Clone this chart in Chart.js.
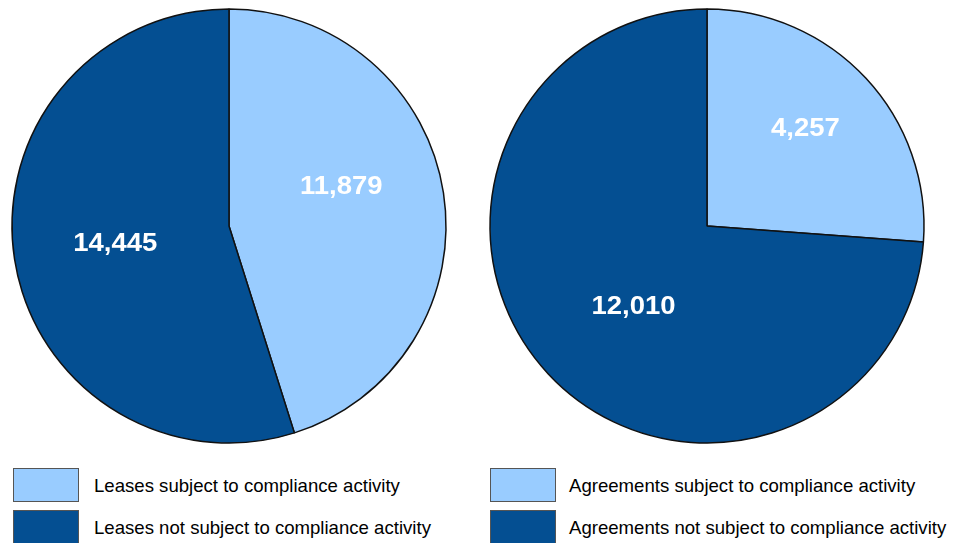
<!DOCTYPE html>
<html>
<head>
<meta charset="utf-8">
<script src="https://cdn.jsdelivr.net/npm/chart.js@4.4.1/dist/chart.umd.min.js"></script>
<style>
  body { margin: 0; background: #fff; font-family: "Liberation Sans", Arial, sans-serif; }
  #wrap { position: relative; width: 962px; height: 543px; overflow: hidden; }
  canvas { position: absolute; top: 0; }
  .box { position: absolute; width: 64px; height: 32px; border: 1px solid #555; }
  .txt { position: absolute; font-size: 18.6px; color: #000; line-height: 20px; white-space: nowrap; }
</style>
</head>
<body>
<div id="wrap">
  <canvas id="leases" width="458" height="452" style="left:0px"></canvas>
  <canvas id="agreements" width="458" height="452" style="left:478px"></canvas>

  <div class="box" style="left:13px;top:468px;background:#99ccff"></div>
  <div class="txt" style="left:94px;top:476px">Leases subject to compliance activity</div>
  <div class="box" style="left:13px;top:510px;background:#044f92"></div>
  <div class="txt" style="left:94px;top:518px">Leases not subject to compliance activity</div>

  <div class="box" style="left:490px;top:468px;background:#99ccff"></div>
  <div class="txt" style="left:569px;top:476px">Agreements subject to compliance activity</div>
  <div class="box" style="left:490px;top:510px;background:#044f92"></div>
  <div class="txt" style="left:569px;top:518px">Agreements not subject to compliance activity</div>
</div>
<script>
// data
let leaseLabels = ['Leases subject to compliance activity', 'Leases not subject to compliance activity']
let leaseValues = [11879, 14445]
let agreementLabels = ['Agreements subject to compliance activity', 'Agreements not subject to compliance activity']
let agreementValues = [4257, 12010]

let sliceColors = ['#99ccff', '#044f92']

// where the number sits inside each slice: [fraction of radius, angle shift in degrees]
let leaseLabelPos = [[0.55, -11], [0.53, 0]]
let agreementLabelPos = [[0.64, -2], [0.5, -4.5]]

// small plugin that writes the value inside each slice
let valueLabels = {
    id: 'valueLabels',
    afterDatasetsDraw: function(chart, args, opts) {
        let ctx = chart.ctx
        let meta = chart.getDatasetMeta(0)
        let values = chart.data.datasets[0].data
        meta.data.forEach(function(arc, i) {
            let pos = opts.pos[i]
            let mid = (arc.startAngle + arc.endAngle) / 2 + pos[1] * Math.PI / 180
            let r = arc.outerRadius * pos[0]
            let x = arc.x + Math.cos(mid) * r
            let y = arc.y + Math.sin(mid) * r
            ctx.save()
            ctx.translate(x, y + 1)
            // numbers in the original look a bit stretched sideways
            ctx.scale(1.1, 1)
            ctx.fillStyle = '#ffffff'
            ctx.font = 'bold 25px "Liberation Sans", Arial, sans-serif'
            ctx.textAlign = 'center'
            ctx.textBaseline = 'middle'
            ctx.fillText(values[i].toLocaleString('en-US'), 0, 0)
            ctx.restore()
        })
    }
}

let makePie = function(id, labels, values, pos) {
    return new Chart(document.getElementById(id), {
        type: 'pie',
        data: {
            labels: labels,
            datasets: [{
                data: values,
                backgroundColor: sliceColors,
                borderColor: '#111111',
                borderWidth: 1.5
            }]
        },
        options: {
            responsive: false,
            animation: false,
            radius: 217,
            events: [],
            plugins: {
                legend: { display: false },
                tooltip: { enabled: false },
                valueLabels: { pos: pos }
            }
        },
        plugins: [valueLabels]
    })
}

makePie('leases', leaseLabels, leaseValues, leaseLabelPos)
makePie('agreements', agreementLabels, agreementValues, agreementLabelPos)
</script>
</body>
</html>
